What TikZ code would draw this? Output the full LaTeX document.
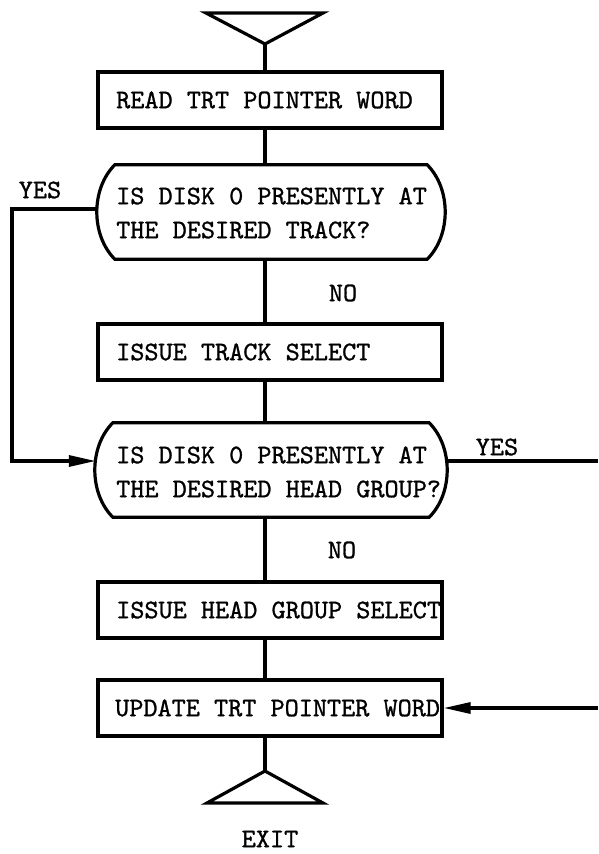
\documentclass[tikz,border=0pt]{standalone}
\usepackage{fontspec}
\usetikzlibrary{arrows.meta,calc}

% heavier typewriter face for all lettering
\newfontfamily\typewriter{lmmono10-regular.otf}[FakeBold=1.0]

\tikzset{
  line/.style={line width=3.2pt, line join=miter},
  procbox/.style={draw, line width=3.2pt, rectangle, minimum width=344pt, minimum height=56pt, inner sep=0pt},
  decbox/.style={rectangle, minimum width=#1, minimum height=94pt, inner sep=0pt},
  txt/.style={font=\typewriter\fontsize{26.9}{34}\selectfont, inner sep=0pt, align=left, anchor=west},
  lbl/.style={font=\typewriter\fontsize{26.9}{34}\selectfont, inner sep=0pt},
  arr/.style={line, -{Triangle[length=27pt,width=11pt]}}
}

% outline of a decision: flat top and bottom, bowed ends
\newcommand\decoutline[1]{%
  \draw[line] (#1.north west) -- (#1.north east)
    .. controls +(24,24) and +(24,-24) .. (#1.south east)
    -- (#1.south west)
    .. controls +(-24,-24) and +(-24,24) .. cycle;}

\begin{document}
\begin{tikzpicture}[x=1pt,y=-1pt]
\useasboundingbox (0,0) rectangle (598,854);

% entry terminal
\coordinate (inL) at (206,13);
\coordinate (inR) at (323,13);
\coordinate (inApex) at (265,44);
\draw[line] (inL) -- (inR) -- (inApex) -- cycle;

% process boxes and decisions
\node[procbox] (b1) at (270,100) {};
\node[txt] (t1) at (116,100) {READ TRT POINTER WORD};

\node[decbox=312pt] (d1) at (271,212) {};
\decoutline{d1}
\node[txt] (t2) at (116,213) {IS DISK 0 PRESENTLY AT\\THE DESIRED TRACK?};

\node[procbox] (b2) at (270,352) {};
\node[txt] (t3) at (116,352) {ISSUE TRACK SELECT};

\node[decbox=316pt] (d2) at (271,470) {};
\decoutline{d2}
\node[txt] (t4) at (116,472) {IS DISK 0 PRESENTLY AT\\THE DESIRED HEAD GROUP?};

\node[procbox] (b3) at (270,610) {};
\node[txt] (t5) at (116,610) {ISSUE HEAD GROUP SELECT};

\node[procbox] (b4) at (270,708) {};
\node[txt] (t6) at (115,708) {UPDATE TRT POINTER WORD};

% exit terminal
\coordinate (outApex) at (265,771);
\coordinate (outL) at (207,803);
\coordinate (outR) at (323,803);
\draw[line] (outApex) -- (outR) -- (outL) -- cycle;
\node[lbl] (exit) at (270,839) {EXIT};

% main flow
\draw[line] (inApex) -- (b1.north -| inApex);
\draw[line] (b1.south -| inApex) -- (d1.north -| inApex);
\draw[line] (d1.south -| inApex) -- (b2.north -| inApex);
\draw[line] (b2.south -| inApex) -- (d2.north -| inApex);
\draw[line] (d2.south -| inApex) -- (b3.north -| inApex);
\draw[line] (b3.south -| inApex) -- (b4.north -| inApex);
\draw[line] (b4.south -| inApex) -- (outApex);

% branch points on the bowed ends
\coordinate (d1L) at ([xshift=-18pt,yshift=3pt]d1.west);
\coordinate (d2L) at ([xshift=-17pt,yshift=9pt]d2.west);
\coordinate (d2R) at ([xshift=17pt,yshift=9pt]d2.east);
\coordinate (leftRail) at (12,0);
\coordinate (yesOut) at (598,0);
\coordinate (backIn) at (598,0);

% YES from the track test skips the track select
\draw[arr] (d1L) -- (d1L -| leftRail) -- (d2L -| leftRail) -- (d2L);
\node[lbl] (yes1) at (40,190) {YES};

% YES from the head group test leaves to the right
\draw[line] (d2R) -- (d2R -| yesOut);
\node[lbl] (yes2) at (497,447) {YES};

% return into the pointer update
\draw[arr] (b4.east -| backIn) -- (b4.east);

% NO labels
\node[lbl] (no1) at (343,293) {NO};
\node[lbl] (no2) at (342,550) {NO};
\end{tikzpicture}
\end{document}
